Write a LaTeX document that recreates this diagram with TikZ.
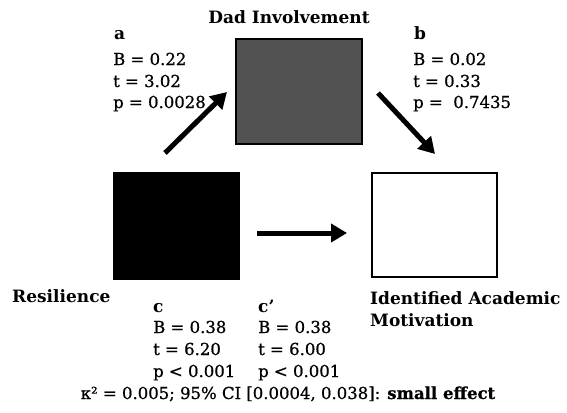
\documentclass[tikz,border=0pt]{standalone}
\usepackage{fontspec}
\setmainfont{DejaVu Serif}
\newfontfamily\statfont{DejaVu Serif}[FakeBold=0.8]
\usetikzlibrary{arrows.meta}
\begin{document}
\begin{tikzpicture}[x=1pt,y=-1pt,
  lbl/.style={font=\fontsize{17}{20}\selectfont\bfseries, inner sep=0pt, anchor=base west},
  stat/.style={font=\fontsize{16.5}{19}\statfont, inner sep=0pt, anchor=base west},
  box/.style={draw=black, line width=2.5pt, inner sep=0pt},
  arr/.style={line width=5pt, -{Triangle[length=16pt,width=18pt]}},
]
\useasboundingbox (0,0) rectangle (567,412);
% boxes
\node[box, fill=black!68, minimum width=126pt, minimum height=105pt] (dad) at (299,91.5) {};
\node[box, fill=black, minimum width=125pt, minimum height=106pt] (res) at (176.5,226) {};
\node[box, fill=white, minimum width=125pt, minimum height=104pt] (ident) at (434.5,225) {};
% titles
\node[lbl, anchor=base] (tdad) at (289,24) {Dad Involvement};
\node[lbl] (tres) at (12,302) {Resilience};
\node[lbl] (tid1) at (370,304) {Identified Academic};
\node[lbl] (tid2) at (370,326) {Motivation};
% path a
\node[lbl] (la) at (114,40) {a};
\node[stat] (a1) at (113,65) {B = 0.22};
\node[stat] (a2) at (113,87) {t = 3.02};
\node[stat] (a3) at (113,108) {p = 0.0028};
% path b
\node[lbl] (lb) at (414,40) {b};
\node[stat] (b1) at (413,65) {B = 0.02};
\node[stat] (b2) at (413,87) {t = 0.33};
\node[stat] (b3) at (413,108) {p =\ \ 0.7435};
% path c
\node[lbl] (lc) at (153,312) {c};
\node[stat] (c1) at (153,333) {B = 0.38};
\node[stat] (c2) at (153,355) {t = 6.20};
\node[stat] (c3) at (153,377) {p < 0.001};
% path c'
\node[lbl] (lcp) at (258,312) {c'};
\node[stat] (d1) at (258,333) {B = 0.38};
\node[stat] (d2) at (258,355) {t = 6.00};
\node[stat] (d3) at (258,377) {p < 0.001};
% effect size
\node[stat, anchor=base] (eff) at (288,399) {κ² = 0.005; 95\% CI [0.0004, 0.038]: {\bfseries small effect}};
% arrows
\coordinate (pa1) at (165,153);
\coordinate (pa2) at (227,92);
\coordinate (pb1) at (378,93);
\coordinate (pb2) at (435,154);
\coordinate (pc1) at (257,233);
\coordinate (pc2) at (347,233);
\draw[arr] (pa1) -- (pa2);
\draw[arr] (pb1) -- (pb2);
\draw[arr] (pc1) -- (pc2);
\end{tikzpicture}
\end{document}
